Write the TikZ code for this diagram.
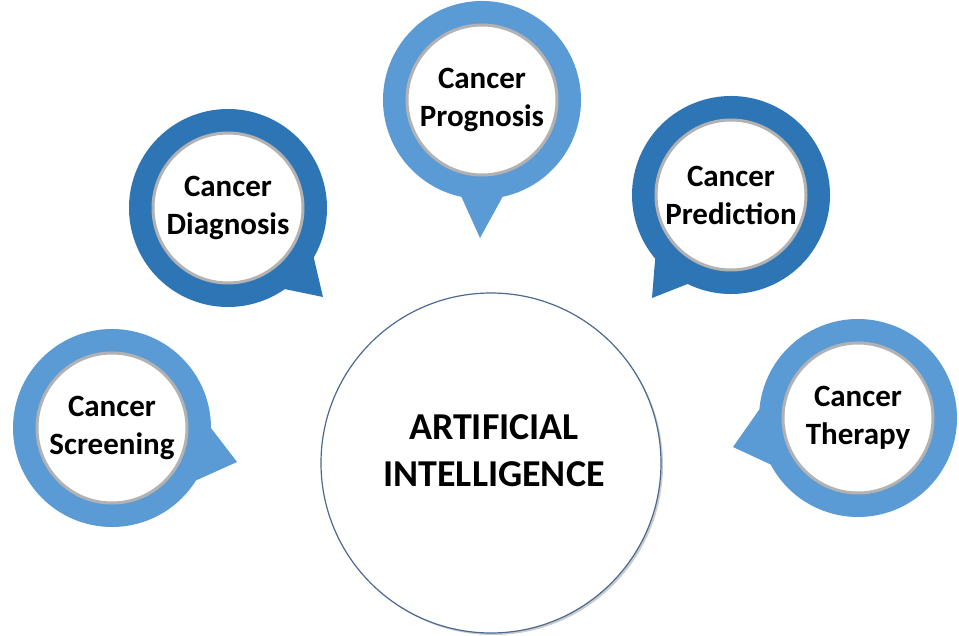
\documentclass[tikz,border=0pt]{standalone}
\usepackage{fontspec}
\setmainfont{Carlito}
\usepackage{tikz}
\usetikzlibrary{calc}
\usetikzlibrary{shadows}

\definecolor{lightring}{RGB}{91,155,213}
\definecolor{darkring}{RGB}{46,117,182}
\definecolor{aiedge}{RGB}{75,105,145}

\begin{document}
\begin{tikzpicture}[x=1pt,y=1pt,
		inner/.style={circle,fill=white,draw=black!30,line width=3pt,minimum size=150pt,inner sep=0pt,align=center,font=\fontsize{31}{38}\selectfont\bfseries}]
		\useasboundingbox (0,0) rectangle (959,635);

		\coordinate (screenc) at (112,207);
		\coordinate (diagc) at (228,427);
		\coordinate (prognc) at (482,535);
		\coordinate (predc) at (731,440);
		\coordinate (therc) at (858,217);

		\coordinate (screentip) at (237,173);
		\coordinate (diagtip) at (323,338);
		\coordinate (progntip) at (480,397);
		\coordinate (predtip) at (652,337);
		\coordinate (thertip) at (733,188);

		\fill [lightring] (screenc) ++(0:99) arc[start angle=0,end angle=328,radius=99] -- (screentip) -- cycle;
		\fill [darkring] (diagc) ++(-30:99) arc[start angle=-30,end angle=305,radius=99] -- (diagtip) -- cycle;
		\fill [lightring] (prognc) ++(-78:99) arc[start angle=-78,end angle=258,radius=99] -- (progntip) -- cycle;
		\fill [darkring] (predc) ++(-116:99) arc[start angle=-116,end angle=220,radius=99] -- (predtip) -- cycle;
		\fill [lightring] (therc) ++(208:99) arc[start angle=208,end angle=535,radius=99] -- (thertip) -- cycle;

		\node [inner] (screen) at (screenc) {Cancer\\Screening};
		\node [inner] (diag) at (diagc) {Cancer\\Diagnosis};
		\node [inner] (progn) at (prognc) {Cancer\\Prognosis};
		\node [inner] (pred) at (predc) {Cancer\\Prediction};
		\node [inner] (ther) at (therc) {Cancer\\Therapy};

		\node [circle,fill=white,draw=aiedge,line width=1.2pt,minimum size=340pt,drop shadow={shadow xshift=2pt,shadow yshift=-2pt,fill=black!40}] (ai) at (491,172) {};
		\node [align=center,font=\fontsize{38}{47}\selectfont\bfseries] (aitext) at ([xshift=3pt,yshift=12pt]ai.center) {ARTIFICIAL\\INTELLIGENCE};
	\end{tikzpicture}
\end{document}
